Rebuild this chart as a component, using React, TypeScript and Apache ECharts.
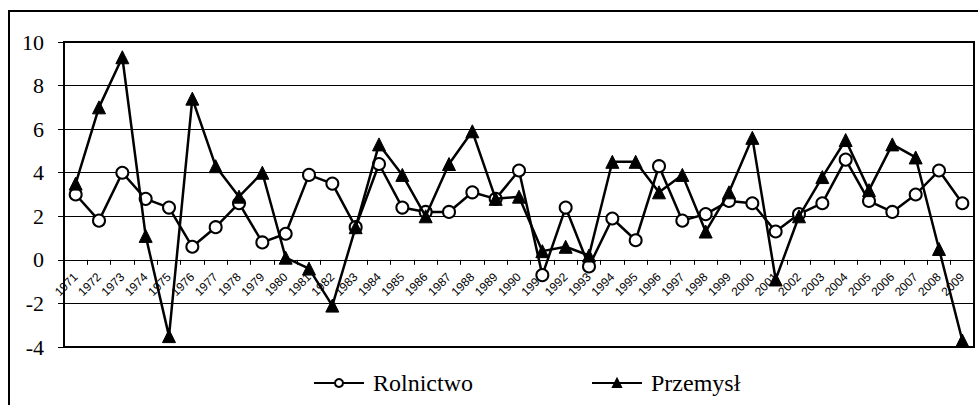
import React, { useEffect, useRef } from "react";
import * as echarts from "echarts";

const years = [
  "1971", "1972", "1973", "1974", "1975", "1976", "1977", "1978", "1979", "1980",
  "1981", "1982", "1983", "1984", "1985", "1986", "1987", "1988", "1989", "1990",
  "1991", "1992", "1993", "1994", "1995", "1996", "1997", "1998", "1999", "2000",
  "2001", "2002", "2003", "2004", "2005", "2006", "2007", "2008", "2009",
];

const rolnictwo = [
  3.0, 1.8, 4.0, 2.8, 2.4, 0.6, 1.5, 2.6, 0.8, 1.2,
  3.9, 3.5, 1.5, 4.4, 2.4, 2.2, 2.2, 3.1, 2.8, 4.1,
  -0.7, 2.4, -0.3, 1.9, 0.9, 4.3, 1.8, 2.1, 2.7, 2.6,
  1.3, 2.1, 2.6, 4.6, 2.7, 2.2, 3.0, 4.1, 2.6,
];

const przemysl = [
  3.5, 7.0, 9.3, 1.1, -3.5, 7.4, 4.3, 2.9, 4.0, 0.1,
  -0.4, -2.1, 1.5, 5.3, 3.9, 2.0, 4.4, 5.9, 2.8, 2.9,
  0.4, 0.6, 0.2, 4.5, 4.5, 3.1, 3.9, 1.3, 3.1, 5.6,
  -0.9, 2.0, 3.8, 5.5, 3.2, 5.3, 4.7, 0.5, -3.7,
];

const seriesNames = ["Rolnictwo", "Przemysł"];

const SERIF = "Liberation Serif";
const SANS = "Liberation Sans";

export default function App() {
  const ref = useRef<HTMLDivElement>(null);
  useEffect(() => {
    if (!ref.current) return;
    const chart = echarts.init(ref.current, undefined, { renderer: "svg" });
    chart.setOption({
      animation: false,
      backgroundColor: "#fff",
      graphic: [
        {
          type: "rect",
          shape: { x: 9, y: 11, width: 990, height: 420 },
          style: { fill: "none", stroke: "#000", lineWidth: 2 },
          z: 100,
          silent: true,
        },
      ],
      grid: {
        left: 64,
        right: 4,
        top: 42,
        bottom: 58,
        show: true,
        borderColor: "#000",
        borderWidth: 2,
        backgroundColor: "transparent",
      },
      legend: {
        left: 313,
        top: 371,
        padding: 0,
        itemWidth: 50,
        itemHeight: 10,
        itemGap: 118,
        textStyle: {
          fontFamily: SERIF,
          fontSize: 24,
          color: "#000",
          padding: [0, 0, 0, 4],
        },
        data: seriesNames,
      },
      xAxis: {
        type: "category",
        data: years,
        boundaryGap: true,
        axisLine: { onZero: true, lineStyle: { color: "#000", width: 1 } },
        axisTick: {
          show: true,
          interval: 0,
          alignWithLabel: false,
          length: 5,
          lineStyle: { color: "#000" },
        },
        axisLabel: {
          interval: 0,
          rotate: 45,
          margin: -72,
          fontFamily: SANS,
          fontSize: 12,
          color: "#000",
        },
        splitLine: { show: false },
      },
      yAxis: {
        type: "value",
        min: -4,
        max: 10,
        interval: 2,
        axisLine: { show: true, lineStyle: { color: "#000", width: 2 } },
        axisTick: { show: true, length: 6, lineStyle: { color: "#000" } },
        axisLabel: {
          margin: 20,
          fontFamily: SERIF,
          fontSize: 22,
          color: "#000",
        },
        splitLine: { show: true, lineStyle: { color: "#000", width: 1.2 } },
      },
      series: [
        {
          name: seriesNames[0],
          type: "line",
          data: rolnictwo,
          symbol: "circle",
          symbolSize: 12,
          showAllSymbol: true,
          lineStyle: { color: "#000", width: 2.5 },
          itemStyle: { color: "#fff", borderColor: "#000", borderWidth: 2 },
          z: 2,
        },
        {
          name: seriesNames[1],
          type: "line",
          data: przemysl,
          symbol: "triangle",
          symbolSize: 13,
          showAllSymbol: true,
          lineStyle: { color: "#000", width: 2.5 },
          itemStyle: { color: "#000", borderColor: "#000", borderWidth: 1 },
          z: 3,
        },
      ],
    });
    return () => chart.dispose();
  }, []);
  return (
    <div
      ref={ref}
      style={{ position: "absolute", left: 0, top: 0, width: 978, height: 405 }}
    />
  );
}
